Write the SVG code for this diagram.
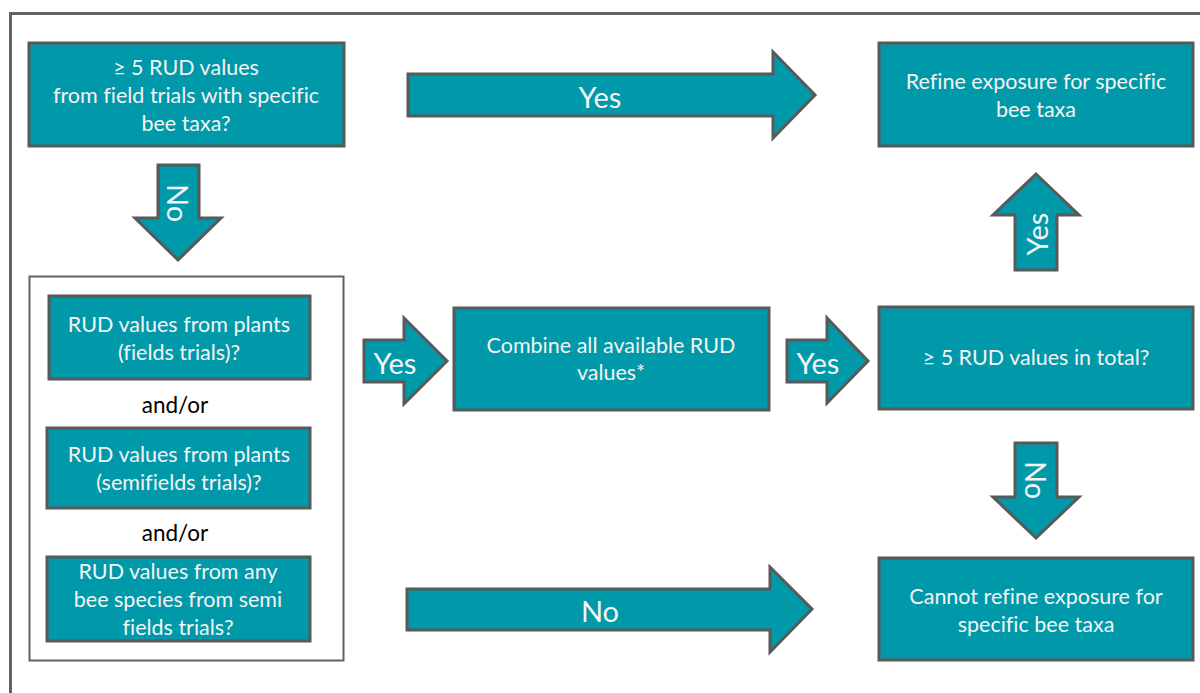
<svg xmlns="http://www.w3.org/2000/svg" width="1200" height="693" viewBox="0 0 1200 693">
<style>
.box{fill:#0099a9;stroke:#595959;stroke-width:3}
.arr{fill:#0099a9;stroke:#595959;stroke-width:3;stroke-linejoin:miter}
.t{font-family:Lato,"Liberation Sans",sans-serif;font-size:21.5px;fill:#f4f4f4;text-anchor:middle;font-variant-ligatures:none}
.big{font-family:Lato,"Liberation Sans",sans-serif;font-size:29px;fill:#f4f4f4;text-anchor:middle;dominant-baseline:central}
.blk{font-family:Lato,"Liberation Sans",sans-serif;font-size:22.5px;fill:#000;text-anchor:middle}
</style>
<rect x="0" y="0" width="1200" height="693" fill="#fff"/>
<rect id="frame" x="10.5" y="13.5" width="1200" height="700" fill="none" stroke="#626262" stroke-width="3"/>

<g id="connectors">
  <g id="arrow-yes-top">
    <polygon class="arr" points="408,74 773,74 773,52 815,95 773,138 773,116 408,116"/>
    <text class="big" x="600" y="96">Yes</text>
  </g>
  <g id="arrow-no-left">
    <polygon class="arr" points="158,165 199,165 199,218 221,218 178,260 135,218 158,218"/>
    <text class="big" transform="translate(178,203) rotate(90)" x="0" y="0">No</text>
  </g>
  <g id="arrow-yes-mid1">
    <polygon class="arr" points="364,340 404,340 404,318 447,361 404,404 404,382 364,382"/>
    <text class="big" x="395" y="362">Yes</text>
  </g>
  <g id="arrow-yes-mid2">
    <polygon class="arr" points="787,340 827,340 827,318 868,361 827,403 827,382 787,382"/>
    <text class="big" x="818" y="362">Yes</text>
  </g>
  <g id="arrow-yes-up">
    <polygon class="arr" points="1015,270 1015,215 993,215 1036,174 1079,215 1057,215 1057,270"/>
    <text class="big" transform="translate(1036,234) rotate(-90)" x="0" y="0">Yes</text>
  </g>
  <g id="arrow-no-right">
    <polygon class="arr" points="1015,443 1057,443 1057,497 1079,497 1036,538 993,497 1015,497"/>
    <text class="big" transform="translate(1036,480) rotate(90)" x="0" y="0">No</text>
  </g>
  <g id="arrow-no-bottom">
    <polygon class="arr" points="407,589 770,589 770,567 812,609 770,652 770,630 407,630"/>
    <text class="big" x="600" y="610">No</text>
  </g>
</g>

<g id="node-q1">
  <rect class="box" x="29" y="43" width="315" height="103"/>
  <text class="t" x="186" y="75">≥ 5 RUD values</text>
  <text class="t" x="186" y="103">from field trials with specific</text>
  <text class="t" x="186" y="131">bee taxa?</text>
</g>

<g id="node-group">
  <rect x="29.5" y="276.5" width="314" height="384" fill="none" stroke="#626262" stroke-width="2"/>
  <g id="node-plants-field">
    <rect class="box" x="49" y="296" width="261" height="83"/>
    <text class="t" x="179" y="332">RUD values from plants</text>
    <text class="t" x="179" y="360">(fields trials)?</text>
  </g>
  <text class="blk" x="175" y="413">and/or</text>
  <g id="node-plants-semifield">
    <rect class="box" x="47" y="428" width="263" height="80"/>
    <text class="t" x="179" y="462">RUD values from plants</text>
    <text class="t" x="179" y="490">(semifields trials)?</text>
  </g>
  <text class="blk" x="175" y="541">and/or</text>
  <g id="node-any-bee">
    <rect class="box" x="47" y="557" width="263" height="84"/>
    <text class="t" x="178" y="579">RUD values from any</text>
    <text class="t" x="178" y="607">bee species from semi</text>
    <text class="t" x="178" y="635">fields trials?</text>
  </g>
</g>

<g id="node-combine">
  <rect class="box" x="454" y="308" width="315" height="102"/>
  <text class="t" x="611" y="353">Combine all available RUD</text>
  <text class="t" x="611" y="380">values*</text>
</g>

<g id="node-refine">
  <rect class="box" x="879" y="43" width="314" height="103"/>
  <text class="t" x="1036" y="89">Refine exposure for specific</text>
  <text class="t" x="1036" y="117">bee taxa</text>
</g>

<g id="node-total">
  <rect class="box" x="879" y="307" width="314" height="102"/>
  <text class="t" x="1036" y="365">≥ 5 RUD values in total?</text>
</g>

<g id="node-cannot">
  <rect class="box" x="879" y="558" width="314" height="102"/>
  <text class="t" x="1036" y="604">Cannot refine exposure for</text>
  <text class="t" x="1036" y="632">specific bee taxa</text>
</g>
</svg>
